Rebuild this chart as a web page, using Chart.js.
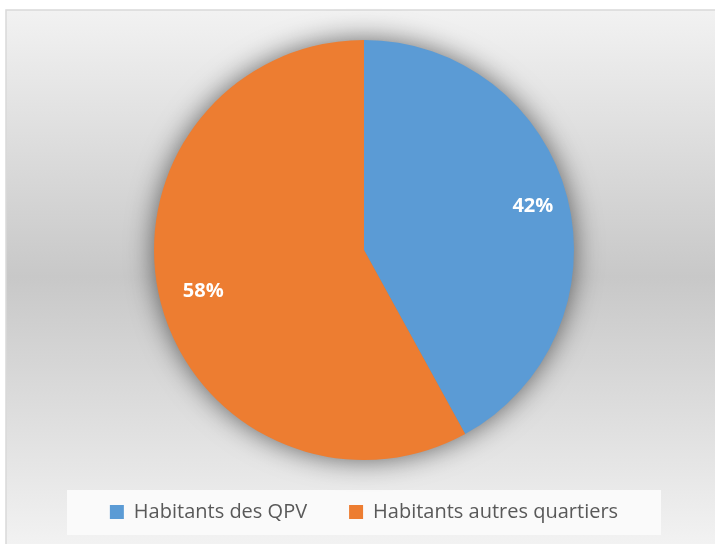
<!DOCTYPE html>
<html>
<head>
<meta charset="utf-8">
<script src="https://cdn.jsdelivr.net/npm/chart.js@4/dist/chart.umd.min.js"></script>
<style>
  html, body { margin: 0; padding: 0; background: #fff; }
  #wrap { position: relative; width: 715px; height: 544px; }
</style>
</head>
<body>
<div id="wrap"><canvas id="c"></canvas></div>
<script>
const categories = ["Habitants des QPV", "Habitants autres quartiers"];
const shares = [42, 58];
const sliceColors = ["#5b9bd5", "#ed7d31"];

// background, frame, pie shadow and white legend panel
const decor = {
  id: "decor",
  beforeDraw(chart) {
    const { ctx, width, height } = chart;
    ctx.save();
    ctx.fillStyle = "#fff";
    ctx.fillRect(0, 0, width, height);
    const g = ctx.createLinearGradient(0, 10, 0, height);
    g.addColorStop(0, "#f2f2f2");
    g.addColorStop(0.5, "#c8c8c8");
    g.addColorStop(1, "#f2f2f2");
    ctx.fillStyle = g;
    ctx.fillRect(6, 10, width - 6, height - 10);
    ctx.strokeStyle = "#d9d9d9";
    ctx.lineWidth = 1.5;
    ctx.beginPath();
    ctx.moveTo(6, height);
    ctx.lineTo(6, 10);
    ctx.lineTo(width, 10);
    ctx.stroke();
    ctx.fillStyle = "#fafafa";
    ctx.fillRect(67, 490, 594, 45);
    ctx.restore();
  },
  beforeDatasetsDraw(chart) {
    const arc = chart.getDatasetMeta(0).data[0];
    if (!arc) return;
    const { ctx } = chart;
    ctx.save();
    ctx.shadowColor = "rgba(0,0,0,0.6)";
    ctx.shadowBlur = 28;
    ctx.fillStyle = "#888";
    ctx.beginPath();
    ctx.arc(arc.x, arc.y, arc.outerRadius - 1, 0, Math.PI * 2);
    ctx.fill();
    ctx.restore();
  }
};

// percentage labels inside the slices
const sliceLabels = {
  id: "sliceLabels",
  afterDatasetsDraw(chart) {
    const { ctx } = chart;
    const meta = chart.getDatasetMeta(0);
    ctx.save();
    ctx.fillStyle = "#fff";
    ctx.font = "bold 20px 'Open Sans'";
    ctx.textAlign = "center";
    ctx.textBaseline = "middle";
    meta.data.forEach((arc, i) => {
      const mid = (arc.startAngle + arc.endAngle) / 2;
      const r = arc.outerRadius * (i === 0 ? 0.83 : 0.79);
      ctx.fillText(shares[i] + "%", arc.x + Math.cos(mid) * r, arc.y + Math.sin(mid) * r);
    });
    ctx.restore();
  }
};

new Chart(document.getElementById("c"), {
  type: "pie",
  data: {
    labels: categories,
    datasets: [{
      data: shares,
      backgroundColor: sliceColors,
      borderWidth: 0
    }]
  },
  options: {
    responsive: true,
    maintainAspectRatio: false,
    animation: false,
    layout: { padding: { left: 13, right: 0, top: 40, bottom: 12 } },
    plugins: {
      tooltip: { enabled: false },
      legend: {
        position: "bottom",
        labels: {
          boxWidth: 14,
          boxHeight: 14,
          padding: 42,
          color: "#595959",
          font: { family: "'Open Sans'", size: 20 }
        }
      }
    }
  },
  plugins: [decor, sliceLabels]
});
</script>
</body>
</html>
